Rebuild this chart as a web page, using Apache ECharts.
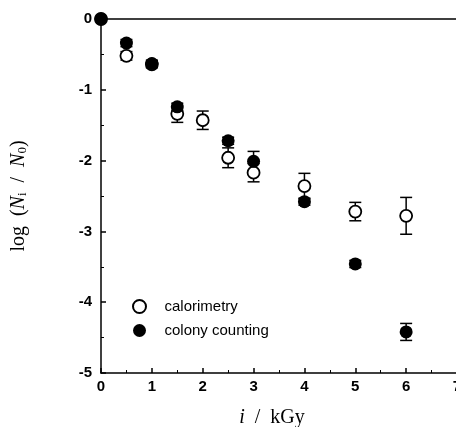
<!DOCTYPE html>
<html>
<head>
<meta charset="utf-8">
<script src="https://cdn.jsdelivr.net/npm/echarts@6/dist/echarts.min.js"></script>
<style>html,body{margin:0;padding:0;background:#fff}#c{width:456px;height:427px}</style>
</head>
<body>
<div id="c"></div>
<script>
const xTicks = [0, 1, 2, 3, 4, 5, 6, 7];
const yTicks = [0, -1, -2, -3, -4, -5];
const calDose = [0, 0.5, 1, 1.5, 2, 2.5, 3, 4, 5, 6];
const calMean = [0, -0.52, -0.64, -1.34, -1.43, -1.96, -2.17, -2.36, -2.72, -2.78];
const calErr  = [0, 0.06, 0.05, 0.12, 0.13, 0.14, 0.13, 0.18, 0.13, 0.26];
const colDose = [0, 0.5, 1, 1.5, 2.5, 3, 4, 5, 6];
const colMean = [0, -0.34, -0.63, -1.24, -1.72, -2.01, -2.58, -3.46, -4.42];
const colErr  = [0, 0.05, 0.05, 0.05, 0.05, 0.14, 0.05, 0.05, 0.12];

const chart = echarts.init(document.getElementById('c'));
const sans = 'Liberation Sans, Arial, sans-serif';
const serif = 'Liberation Serif, Times New Roman, serif';

function errRender(params, api) {
  const x = api.value(0), y = api.value(1), e = api.value(2);
  if (!e) return null;
  const t = api.coord([x, y + e]), b = api.coord([x, y - e]);
  const w = 6;
  const st = {stroke: '#000', lineWidth: 1.5};
  return {type: 'group', children: [
    {type: 'line', shape: {x1: t[0], y1: t[1], x2: b[0], y2: b[1]}, style: st},
    {type: 'line', shape: {x1: t[0] - w, y1: t[1], x2: t[0] + w, y2: t[1]}, style: st},
    {type: 'line', shape: {x1: b[0] - w, y1: b[1], x2: b[0] + w, y2: b[1]}, style: st}
  ]};
}

const option = {
  animation: false,
  backgroundColor: '#fff',
  grid: {left: 101, right: -1, top: 19, bottom: 54, containLabel: false, outerBoundsMode: 'none'},
  legend: {
    left: 127, top: 294, orient: 'vertical',
    itemWidth: 40, itemHeight: 13, itemGap: 9,
    data: ['calorimetry', 'colony counting'],
    textStyle: {fontFamily: sans, fontSize: 15, color: '#000'}
  },
  xAxis: [{
    type: 'value', min: 0, max: 7, interval: 1,
    axisLine: {onZero: false, lineStyle: {color: '#000', width: 1.5}},
    axisTick: {inside: true, length: 5, lineStyle: {color: '#000', width: 1.5}},
    minorTick: {show: true, splitNumber: 2, length: 3, lineStyle: {color: '#000'}},
    splitLine: {show: false},
    axisLabel: {color: '#000', fontFamily: sans, fontSize: 15, fontWeight: 'bold', margin: 6,
      formatter: v => xTicks.includes(v) ? String(v) : ''},
    name: '{i|i}{n|  /  kGy}', nameLocation: 'middle', nameGap: 35,
    nameTextStyle: {padding: [0, 14, 0, 0], rich: {
      i: {fontFamily: serif, fontStyle: 'italic', fontSize: 20, color: '#000'},
      n: {fontFamily: serif, fontSize: 20, color: '#000'}}}
  }, {
    type: 'value', min: 0, max: 7, position: 'top',
    axisLine: {show: true, onZero: false, lineStyle: {color: '#000', width: 1.5}},
    axisTick: {show: false}, axisLabel: {show: false}, splitLine: {show: false}
  }],
  yAxis: {
    type: 'value', min: -5, max: 0, interval: 1,
    axisLine: {onZero: false, lineStyle: {color: '#000', width: 1.5}},
    axisTick: {inside: true, length: 5, lineStyle: {color: '#000', width: 1.5}},
    minorTick: {show: true, splitNumber: 2, length: 3, lineStyle: {color: '#000'}},
    splitLine: {show: false},
    axisLabel: {color: '#000', fontFamily: sans, fontSize: 15, fontWeight: 'bold', margin: 9,
      formatter: v => yTicks.includes(v) ? String(v) : ''},
    name: '{n|log  (}{i|N}{s|i}{n|  /  }{i|N}{s|0}{n|)}', nameLocation: 'middle', nameGap: 70,
    nameTextStyle: {rich: {
      n: {fontFamily: serif, fontSize: 20, color: '#000', lineHeight: 24},
      i: {fontFamily: serif, fontStyle: 'italic', fontSize: 20, color: '#000', lineHeight: 24},
      s: {fontFamily: serif, fontSize: 13, color: '#000', lineHeight: 24, padding: [8, 0, 0, 0]}}}
  },
  series: [
    {type: 'custom', renderItem: errRender, z: 1, silent: true,
      data: calDose.map((d, i) => [d, calMean[i], calErr[i]])},
    {type: 'custom', renderItem: errRender, z: 1, silent: true,
      data: colDose.map((d, i) => [d, colMean[i], colErr[i]])},
    {name: 'calorimetry', type: 'scatter', symbol: 'circle', symbolSize: 12, z: 3,
      itemStyle: {color: '#fff', borderColor: '#000', borderWidth: 1.8, opacity: 1},
      data: calDose.map((d, i) => [d, calMean[i]])},
    {name: 'colony counting', type: 'scatter', symbol: 'circle', symbolSize: 13, z: 4,
      itemStyle: {color: '#000', borderColor: '#000', borderWidth: 0, opacity: 1},
      data: colDose.map((d, i) => [d, colMean[i]])}
  ]
};
chart.setOption(option);
</script>
</body>
</html>
